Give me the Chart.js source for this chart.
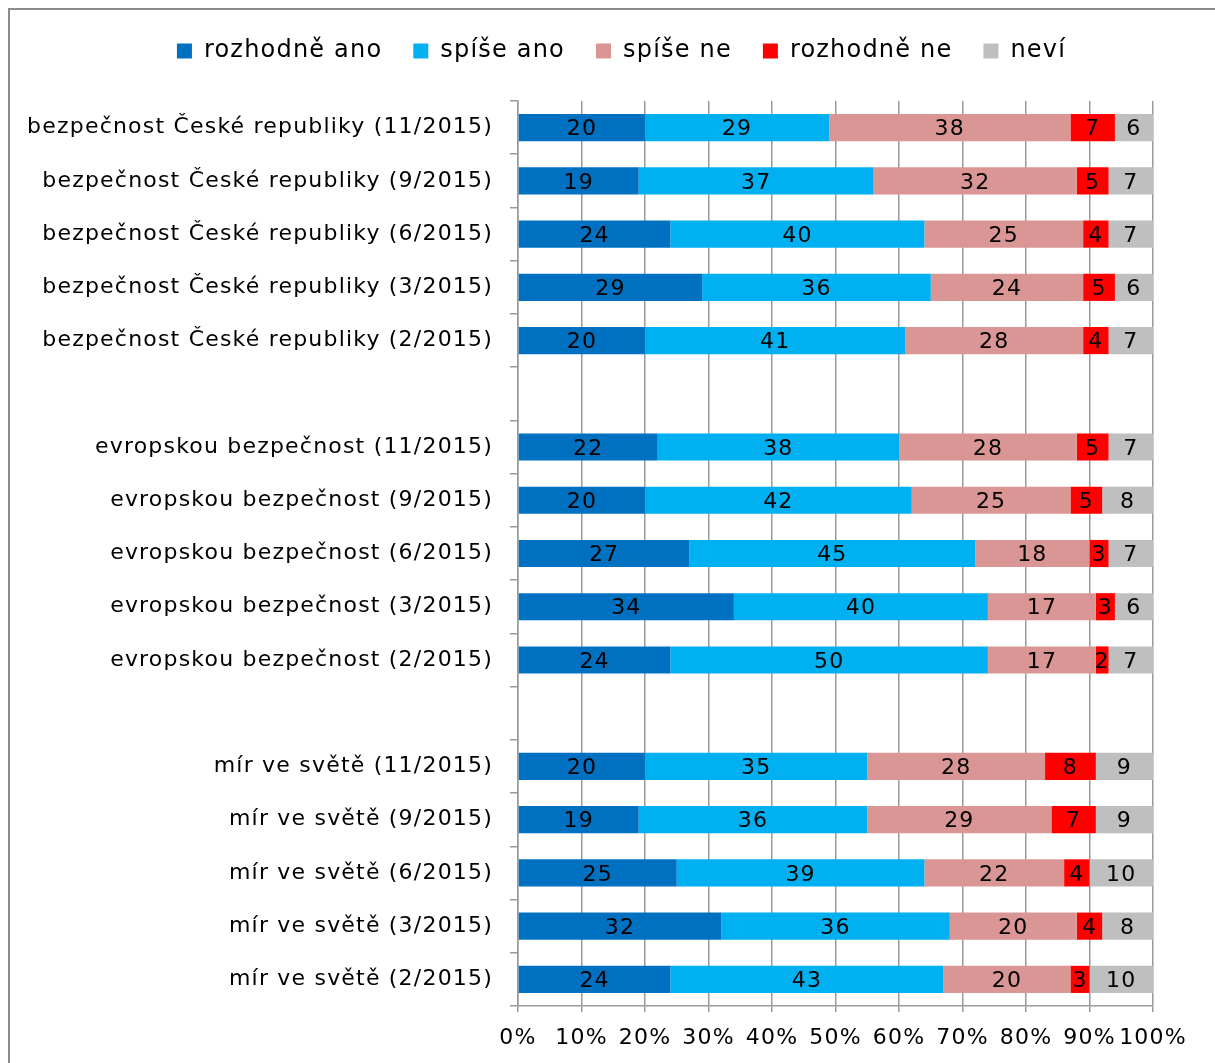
<!DOCTYPE html>
<html>
<head>
<meta charset="utf-8">
<script src="https://cdn.jsdelivr.net/npm/chart.js@4/dist/chart.umd.min.js"></script>
<style>
html,body{margin:0;padding:0;background:#fff;}
#wrap{position:relative;width:1215px;height:1063px;}
canvas{display:block;}
</style>
</head>
<body>
<div id="wrap"><canvas id="c" width="1215" height="1063"></canvas></div>
<script>
const categories = [
  'bezpečnost České republiky (11/2015)',
  'bezpečnost České republiky (9/2015)',
  'bezpečnost České republiky (6/2015)',
  'bezpečnost České republiky (3/2015)',
  'bezpečnost České republiky (2/2015)',
  '',
  'evropskou bezpečnost (11/2015)',
  'evropskou bezpečnost (9/2015)',
  'evropskou bezpečnost (6/2015)',
  'evropskou bezpečnost (3/2015)',
  'evropskou bezpečnost (2/2015)',
  '',
  'mír ve světě (11/2015)',
  'mír ve světě (9/2015)',
  'mír ve světě (6/2015)',
  'mír ve světě (3/2015)',
  'mír ve světě (2/2015)'
];
const seriesNames = ['rozhodně ano', 'spíše ano', 'spíše ne', 'rozhodně ne', 'neví'];
const rozhodneAno = [20, 19, 24, 29, 20, null, 22, 20, 27, 34, 24, null, 20, 19, 25, 32, 24];
const spiseAno    = [29, 37, 40, 36, 41, null, 38, 42, 45, 40, 50, null, 35, 36, 39, 36, 43];
const spiseNe     = [38, 32, 25, 24, 28, null, 28, 25, 18, 17, 17, null, 28, 29, 22, 20, 20];
const rozhodneNe  = [ 7,  5,  4,  5,  4, null,  5,  5,  3,  3,  2, null,  8,  7,  4,  4,  3];
const nevi        = [ 6,  7,  7,  6,  7, null,  7,  8,  7,  6,  7, null,  9,  9, 10,  8, 10];
const xTicks = ['0%','10%','20%','30%','40%','50%','60%','70%','80%','90%','100%'];

const colors = ['#0070C0', '#00B0F0', '#DA9694', '#FF0000', '#BFBFBF'];
const FONT = 'DejaVu Sans, Verdana, sans-serif';
const FS = 22;
const LS = '1.2px';

const spacing = {
  id: 'spacing',
  beforeUpdate(chart) { chart.ctx.letterSpacing = LS; },
  beforeLayout(chart) { chart.ctx.letterSpacing = LS; },
  afterLayout(chart) {
    if (chart.legend) { chart.legend.left += 90; }
  },
  beforeDraw(chart) { chart.ctx.letterSpacing = LS; },
  afterInit(chart) {
    if (chart.legend) {
      const orig = chart.legend.fit.bind(chart.legend);
      chart.legend.fit = function () { orig(); this.height = 93; };
    }
  }
};

const valueLabels = {
  id: 'valueLabels',
  afterDatasetsDraw(chart) {
    const ctx = chart.ctx;
    ctx.save();
    ctx.letterSpacing = LS;
    ctx.font = FS + 'px ' + FONT;
    ctx.fillStyle = '#000';
    ctx.textAlign = 'center';
    ctx.textBaseline = 'middle';
    chart.data.datasets.forEach((ds, di) => {
      const meta = chart.getDatasetMeta(di);
      meta.data.forEach((el, i) => {
        const v = ds.data[i];
        if (v === null || v === undefined) return;
        const p = el.getProps(['x', 'y', 'base'], true);
        ctx.fillText(String(v), (p.x + p.base) / 2, p.y + 2);
      });
    });
    ctx.restore();
  }
};

const frame = {
  id: 'frame',
  beforeDraw(chart) {
    const ctx = chart.ctx;
    ctx.save();
    ctx.strokeStyle = '#8c8c8c';
    ctx.lineWidth = 2;
    ctx.beginPath();
    ctx.moveTo(9, 1063);
    ctx.lineTo(9, 9);
    ctx.lineTo(1215, 9);
    ctx.stroke();
    ctx.restore();
  }
};

const allSeries = [rozhodneAno, spiseAno, spiseNe, rozhodneNe, nevi];

new Chart(document.getElementById('c'), {
  type: 'bar',
  data: {
    labels: categories,
    datasets: allSeries.map((d, i) => ({
      label: seriesNames[i],
      data: d,
      backgroundColor: colors[i],
      borderWidth: 0,
      categoryPercentage: 1,
      barPercentage: 0.51
    }))
  },
  options: {
    indexAxis: 'y',
    responsive: false,
    animation: false,
    devicePixelRatio: 1,
    layout: { padding: { top: 8, right: 62, bottom: 0, left: 0 } },
    plugins: {
      legend: {
        position: 'top',
        labels: {
          font: { family: FONT, size: 24 },
          color: '#000',
          boxWidth: 15,
          boxHeight: 15,
          padding: 31
        }
      },
      tooltip: { enabled: false }
    },
    scales: {
      x: {
        stacked: true,
        min: 0,
        max: 100,
        afterFit(scale) { scale.height = 57; },
        ticks: {
          stepSize: 10,
          font: { family: FONT, size: FS },
          color: '#000',
          padding: 13,
          maxRotation: 0,
          autoSkip: false,
          callback: (v, i) => xTicks[i]
        },
        grid: { color: '#999', lineWidth: 1.5, tickLength: 6, drawOnChartArea: true },
        border: { color: '#999', width: 1.5 }
      },
      y: {
        stacked: true,
        afterFit(scale) { scale.width = 518; },
        ticks: {
          font: { family: FONT, size: FS },
          color: '#000',
          padding: 17,
          autoSkip: false
        },
        grid: { offset: true, drawOnChartArea: false, color: '#999', lineWidth: 1.5, tickLength: 8 },
        border: { color: '#999', width: 1.5 }
      }
    }
  },
  plugins: [spacing, valueLabels, frame]
});
</script>
</body>
</html>
